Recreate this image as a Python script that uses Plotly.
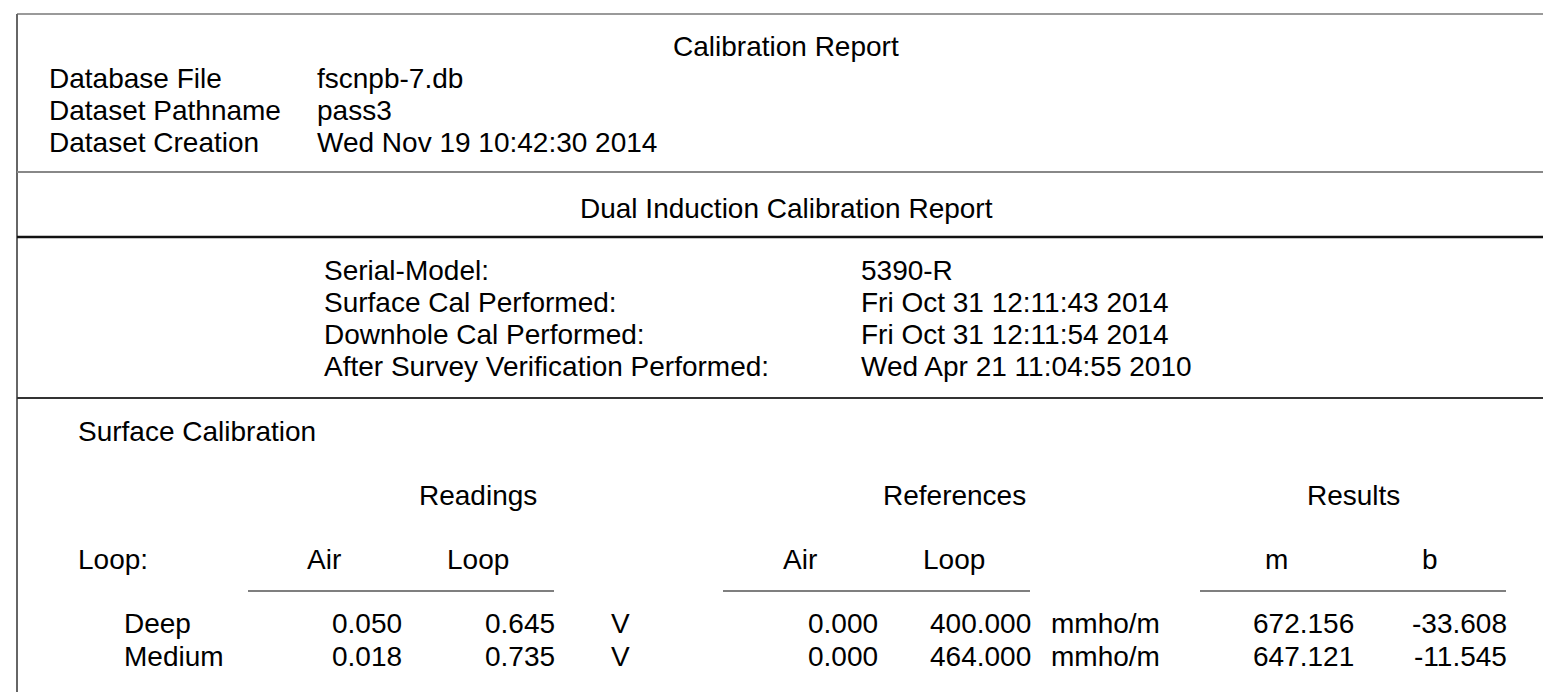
import plotly.graph_objects as go

# header info
header_labels = ["Database File", "Dataset Pathname", "Dataset Creation"]
header_values = ["fscnpb-7.db", "pass3", "Wed Nov 19 10:42:30 2014"]

cal_labels = ["Serial-Model:", "Surface Cal Performed:", "Downhole Cal Performed:",
              "After Survey Verification Performed:"]
cal_values = ["5390-R", "Fri Oct 31 12:11:43 2014", "Fri Oct 31 12:11:54 2014",
              "Wed Apr 21 11:04:55 2010"]

# surface calibration table
loops = ["Deep", "Medium"]
readings_air = [0.050, 0.018]
readings_loop = [0.645, 0.735]
ref_air = [0.000, 0.000]
ref_loop = [400.000, 464.000]
res_m = [672.156, 647.121]
res_b = [-33.608, -11.545]

W, H = 1551, 692
PAD = 8  # page body margin
FONT = "Liberation Sans, Arial, sans-serif"
FS = 28

fig = go.Figure()
fig.add_trace(go.Scatter(x=[0], y=[0], mode="markers", marker=dict(opacity=0), hoverinfo="skip"))

ann = []
def txt(x, y, s, anchor="left"):
	# annotation boxes have a few px of padding, compensate
	sh = {"left": -3, "right": 3, "center": 0}[anchor]
	ann.append(dict(x=x, y=y, text=s, xref="x", yref="y", showarrow=False, xshift=sh,
		xanchor=anchor, yanchor="middle", font=dict(family=FONT, size=FS, color="black")))

txt(786, 46, "Calibration Report", "center")
for i in range(len(header_labels)):
	txt(50, 78 + 32*i, header_labels[i])
	txt(318, 78 + 32*i, header_values[i])

txt(786, 208, "Dual Induction Calibration Report", "center")
for i in range(len(cal_labels)):
	txt(325, 270 + 32.3*i, cal_labels[i])
	txt(862, 270 + 32.3*i, cal_values[i])

txt(79, 431, "Surface Calibration")
txt(478, 495, "Readings", "center")
txt(954, 495, "References", "center")
txt(1353, 495, "Results", "center")
txt(79, 559, "Loop:")
for xc, s in [(324, "Air"), (478, "Loop"), (800, "Air"), (954, "Loop"), (1276, "m"), (1430, "b")]:
	txt(xc, 559, s, "center")

for i in range(len(loops)):
	y = 623 + 33*i
	txt(125, y, loops[i])
	txt(401, y, "%.3f" % readings_air[i], "right")
	txt(554, y, "%.3f" % readings_loop[i], "right")
	txt(612, y, "V")
	txt(877, y, "%.3f" % ref_air[i], "right")
	txt(1030, y, "%.3f" % ref_loop[i], "right")
	txt(1052, y, "mmho/m")
	txt(1353, y, "%.3f" % res_m[i], "right")
	txt(1506, y, "%.3f" % res_b[i], "right")

shapes = []
def line(x0, y0, x1, y1, color, w):
	shapes.append(dict(type="line", xref="x", yref="y", x0=x0, y0=y0, x1=x1, y1=y1,
		line=dict(color=color, width=w)))

line(17, 14, W, 14, "#9a9a9a", 2)
line(17, 14, 17, H, "#666666", 2)
line(17, 172, W, 172, "#888888", 2)
line(17, 237, W, 237, "#111111", 2.5)
line(17, 398, W, 398, "#333333", 2)
line(248, 591, 554, 591, "#555555", 1.5)
line(723, 591, 1030, 591, "#555555", 1.5)
line(1200, 591, 1506, 591, "#555555", 1.5)

fig.update_layout(
	width=W - PAD, height=H - PAD, margin=dict(l=0, r=0, t=0, b=0),
	paper_bgcolor="white", plot_bgcolor="white", showlegend=False,
	annotations=ann, shapes=shapes,
	xaxis=dict(range=[PAD, W], visible=False, fixedrange=True),
	yaxis=dict(range=[H, PAD], visible=False, fixedrange=True),
)
fig.write_html("out.html", config={"displayModeBar": False})
